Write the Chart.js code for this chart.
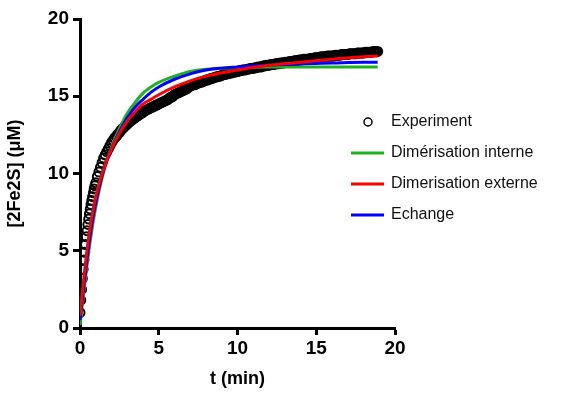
<!DOCTYPE html>
<html>
<head>
<meta charset="utf-8">
<script src="https://cdn.jsdelivr.net/npm/chart.js@4"></script>
<style>
  html, body { margin: 0; padding: 0; background: #fff; }
  #wrap { width: 567px; height: 394px; }
</style>
</head>
<body>
<div id="wrap"><canvas id="kinChart" width="567" height="394"></canvas></div>
<script>
// experimental points (min, µM)
const expTime = [
  0, 0.05, 0.1, 0.15, 0.2, 0.25, 0.3, 0.35, 0.4, 0.45, 0.5, 0.55, 0.6, 0.65, 0.7, 0.75, 0.8, 0.85, 0.9, 0.95, 1.0,
  1.1, 1.2, 1.3, 1.4, 1.5, 1.6, 1.7, 1.8, 1.9, 2.0,
  2.1, 2.2, 2.3, 2.4, 2.5, 2.6, 2.7, 2.8, 2.9, 3.0,
  3.1, 3.2, 3.3, 3.4, 3.5, 3.6, 3.7, 3.8, 3.9, 4.0,
  4.1, 4.2, 4.3, 4.4, 4.5, 4.6, 4.7, 4.8, 4.9, 5.0,
  5.1, 5.2, 5.3, 5.4, 5.5, 5.6, 5.7, 5.8, 5.9, 6.0,
  6.1, 6.2, 6.3, 6.4, 6.5, 6.6, 6.7, 6.8, 6.9, 7.0,
  7.1, 7.2, 7.3, 7.4, 7.5, 7.6, 7.7, 7.8, 7.9, 8.0,
  8.1, 8.2, 8.3, 8.4, 8.5, 8.6, 8.7, 8.8, 8.9, 9.0,
  9.1, 9.2, 9.3, 9.4, 9.5, 9.6, 9.7, 9.8, 9.9, 10.0,
  10.1, 10.2, 10.3, 10.4, 10.5, 10.6, 10.7, 10.8, 10.9, 11.0,
  11.1, 11.2, 11.3, 11.4, 11.5, 11.6, 11.7, 11.8, 11.9, 12.0,
  12.1, 12.2, 12.3, 12.4, 12.5, 12.6, 12.7, 12.8, 12.9, 13.0,
  13.1, 13.2, 13.3, 13.4, 13.5, 13.6, 13.7, 13.8, 13.9, 14.0,
  14.1, 14.2, 14.3, 14.4, 14.5, 14.6, 14.7, 14.8, 14.9, 15.0,
  15.1, 15.2, 15.3, 15.4, 15.5, 15.6, 15.7, 15.8, 15.9, 16.0,
  16.1, 16.2, 16.3, 16.4, 16.5, 16.6, 16.7, 16.8, 16.9, 17.0,
  17.1, 17.2, 17.3, 17.4, 17.5, 17.6, 17.7, 17.8, 17.9, 18.0,
  18.1, 18.2, 18.3, 18.4, 18.5, 18.6, 18.7, 18.8, 18.9
];
const expValues = [
  1.0, 1.8, 2.5, 3.2, 3.8, 4.4, 4.9, 5.4, 5.9, 6.3, 6.7, 7.05, 7.4, 7.7, 8.0, 8.25, 8.5, 8.75, 9.0, 9.2, 9.4,
  9.8, 10.1, 10.4, 10.7, 11.0, 11.2, 11.4, 11.6, 11.8, 12.0,
  12.15, 12.3, 12.4, 12.55, 12.65, 12.8, 12.9, 13.0, 13.1, 13.2,
  13.3, 13.4, 13.45, 13.55, 13.6, 13.7, 13.75, 13.85, 13.9, 13.95,
  14.05, 14.1, 14.15, 14.2, 14.25, 14.3, 14.35, 14.4, 14.45, 14.5,
  14.55, 14.6, 14.65, 14.7, 14.75, 14.8, 14.9, 14.95, 15.0, 15.1,
  15.15, 15.2, 15.25, 15.3, 15.35, 15.4, 15.45, 15.5, 15.6, 15.65,
  15.7, 15.75, 15.75, 15.8, 15.85, 15.9, 15.9, 15.95, 16.0, 16.05,
  16.05, 16.1, 16.15, 16.15, 16.2, 16.25, 16.25, 16.3, 16.3, 16.35,
  16.4, 16.4, 16.45, 16.45, 16.5, 16.5, 16.55, 16.55, 16.6, 16.6,
  16.65, 16.65, 16.7, 16.7, 16.7, 16.75, 16.75, 16.8, 16.8, 16.8,
  16.85, 16.85, 16.9, 16.9, 16.9, 16.95, 16.95, 17.0, 17.0, 17.0,
  17.05, 17.05, 17.05, 17.1, 17.1, 17.1, 17.15, 17.15, 17.15, 17.2,
  17.2, 17.2, 17.25, 17.25, 17.25, 17.3, 17.3, 17.3, 17.35, 17.35,
  17.35, 17.4, 17.4, 17.4, 17.4, 17.45, 17.45, 17.45, 17.5, 17.5,
  17.5, 17.5, 17.55, 17.55, 17.55, 17.55, 17.6, 17.6, 17.6, 17.6,
  17.6, 17.65, 17.65, 17.65, 17.65, 17.7, 17.7, 17.7, 17.7, 17.7,
  17.75, 17.75, 17.75, 17.75, 17.75, 17.8, 17.8, 17.8, 17.8, 17.8,
  17.85, 17.85, 17.85, 17.85, 17.85, 17.9, 17.9, 17.9, 17.9
];

// model fits
const fitTime = [0, 0.25, 0.5, 0.75, 1, 1.5, 2, 2.5, 3, 3.5, 4, 4.5, 5, 6, 7, 8, 10, 12, 14, 16, 18, 18.9];
const greenValues = [0.2, 2.4, 4.5, 6.3, 7.8, 10.1, 11.7, 12.9, 13.9, 14.6, 15.2, 15.6, 15.9, 16.3, 16.6, 16.75, 16.85, 16.9, 16.9, 16.9, 16.9, 16.9];
const redValues = [0.8, 3.3, 5.5, 7.2, 8.5, 10.3, 11.6, 12.6, 13.4, 14.0, 14.5, 14.8, 15.1, 15.6, 16.0, 16.3, 16.7, 17.0, 17.2, 17.4, 17.55, 17.6];
const blueValues = [0.5, 2.8, 4.9, 6.7, 8.1, 10.2, 11.6, 12.7, 13.6, 14.3, 14.8, 15.25, 15.6, 16.1, 16.45, 16.7, 16.9, 17.0, 17.1, 17.15, 17.2, 17.2];

const xTicks = [0, 5, 10, 15, 20];
const yTicks = [0, 5, 10, 15, 20];

const legendItems = [
  { label: 'Experiment', color: '#000', marker: 'circle' },
  { label: 'Dimérisation interne', color: '#1db31d', marker: 'line' },
  { label: 'Dimerisation externe', color: '#ff0000', marker: 'line' },
  { label: 'Echange', color: '#0000ff', marker: 'line' }
];

const pair = (xs, ys) => xs.map((x, i) => ({ x: x, y: ys[i] }));

// legend drawn next to the curves, like the original
const sideLegend = {
  id: 'sideLegend',
  afterDraw(chart) {
    const ctx = chart.ctx;
    ctx.save();
    ctx.font = '16px "Liberation Sans", Arial, sans-serif';
    ctx.textBaseline = 'middle';
    legendItems.forEach((item, i) => {
      const y = 122 + i * 31;
      if (item.marker === 'circle') {
        ctx.beginPath();
        ctx.arc(368, y, 4, 0, Math.PI * 2);
        ctx.lineWidth = 1.5;
        ctx.strokeStyle = item.color;
        ctx.stroke();
      } else {
        ctx.beginPath();
        ctx.moveTo(351, y);
        ctx.lineTo(384, y);
        ctx.lineWidth = 3;
        ctx.strokeStyle = item.color;
        ctx.stroke();
      }
      ctx.fillStyle = '#111';
      ctx.fillText(item.label, 391, y);
    });
    ctx.restore();
  }
};

const tickFont = { family: '"Liberation Sans", Arial, sans-serif', size: 19, weight: 'bold' };
const titleFont = { family: '"Liberation Sans", Arial, sans-serif', size: 18, weight: 'bold' };

new Chart(document.getElementById('kinChart'), {
  type: 'scatter',
  data: {
    datasets: [
      {
        label: legendItems[0].label,
        data: pair(expTime, expValues),
        showLine: false,
        pointStyle: 'circle',
        pointRadius: 4.5,
        pointBorderWidth: 2,
        borderColor: '#000',
        backgroundColor: 'rgba(0,0,0,0)',
        order: 4
      },
      {
        label: legendItems[1].label,
        data: pair(fitTime, greenValues),
        showLine: true,
        borderColor: legendItems[1].color,
        borderWidth: 3,
        pointRadius: 0,
        cubicInterpolationMode: 'monotone',
        order: 3
      },
      {
        label: legendItems[3].label,
        data: pair(fitTime, blueValues),
        showLine: true,
        borderColor: legendItems[3].color,
        borderWidth: 3,
        pointRadius: 0,
        cubicInterpolationMode: 'monotone',
        order: 2
      },
      {
        label: legendItems[2].label,
        data: pair(fitTime, redValues),
        showLine: true,
        borderColor: legendItems[2].color,
        borderWidth: 3,
        pointRadius: 0,
        cubicInterpolationMode: 'monotone',
        order: 1
      }
    ]
  },
  options: {
    responsive: false,
    animation: false,
    layout: { padding: { top: 19, right: 172, left: 0, bottom: 0 } },
    plugins: { legend: { display: false }, tooltip: { enabled: false } },
    scales: {
      x: {
        type: 'linear',
        min: 0, max: 20,
        afterBuildTicks: s => { s.ticks = xTicks.map(v => ({ value: v })); },
        afterFit: s => { s.height = 66; },
        ticks: { color: '#000', font: tickFont, padding: 2, maxRotation: 0 },
        grid: { drawOnChartArea: false, drawTicks: true, tickLength: 7, tickWidth: 3, tickColor: '#000' },
        border: { color: '#000', width: 3 },
        title: { display: true, text: 't (min)', color: '#000', font: titleFont, padding: { top: 4 } }
      },
      y: {
        type: 'linear',
        min: 0, max: 20,
        afterBuildTicks: s => { s.ticks = yTicks.map(v => ({ value: v })); },
        afterFit: s => { s.width = 80; },
        ticks: { color: '#000', font: tickFont, padding: 4 },
        grid: { drawOnChartArea: false, drawTicks: true, tickLength: 7, tickWidth: 3, tickColor: '#000' },
        border: { color: '#000', width: 3 },
        title: { display: true, text: '[2Fe2S] (\u03BCM)', color: '#000', font: titleFont, padding: { bottom: 6 } }
      }
    }
  },
  plugins: [sideLegend]
});
</script>
</body>
</html>
